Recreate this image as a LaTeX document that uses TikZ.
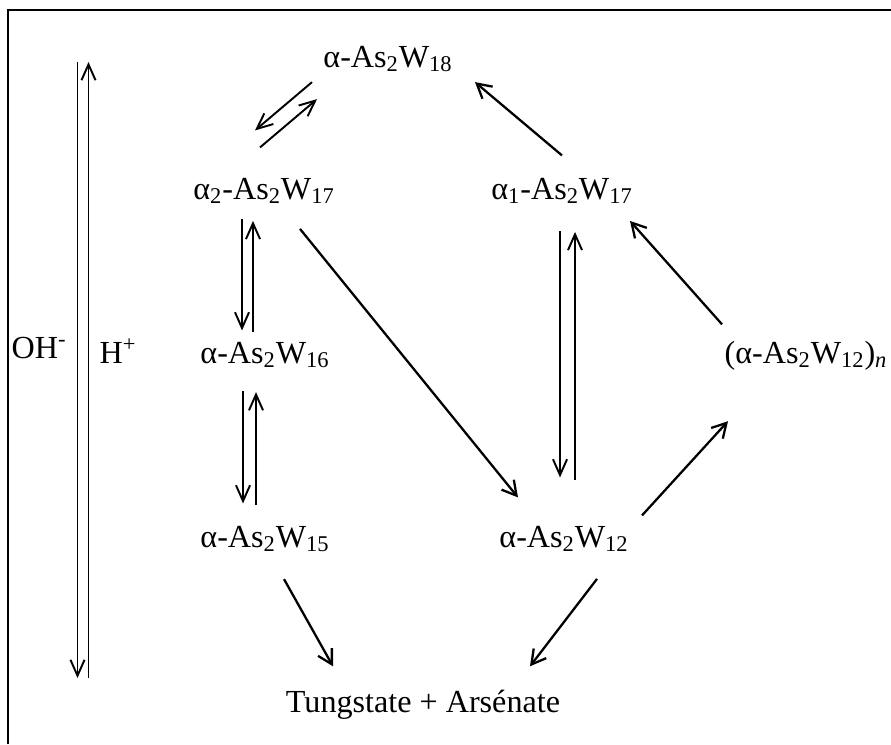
\documentclass[tikz,border=0pt]{standalone}
\usepackage{fontspec}
\setmainfont{Liberation Serif}
\usetikzlibrary{arrows.meta}

\begin{document}
\begin{tikzpicture}[x=0.02cm, y=-0.02cm,
    species/.style={anchor=base, inner sep=0pt, font=\fontsize{18.3}{22}\selectfont},
    react/.style={line width=1.3pt, -{Straight Barb[length=8pt,width=9pt]}},
    equil/.style={line width=1.1pt, -{Straight Barb[length=9pt,width=8pt]}}]
    \useasboundingbox (0,0) rectangle (891,744);

    % Frame
    \draw[line width=1.1pt] (8,744) -- (8,10) -- (891,10);

    % Species
    \node[species] (a18)   at (388,67)  {α-As\textsubscript{2}W\textsubscript{18}};
    \node[species] (a2w17) at (264,199) {α\textsubscript{2}-As\textsubscript{2}W\textsubscript{17}};
    \node[species] (a1w17) at (562,199) {α\textsubscript{1}-As\textsubscript{2}W\textsubscript{17}};
    \node[species] (w16)   at (265,363) {α-As\textsubscript{2}W\textsubscript{16}};
    \node[species] (w12n)  at (806,363) {(α-As\textsubscript{2}W\textsubscript{12})\textsubscript{\textit{n}}};
    \node[species] (w15)   at (265,547) {α-As\textsubscript{2}W\textsubscript{15}};
    \node[species] (w12)   at (564,547) {α-As\textsubscript{2}W\textsubscript{12}};
    \node[species] (prod)  at (423,712) {Tungstate + Arsénate};

    % pH scale
    \node[species] (oh) at (39,358)  {OH\textsuperscript{-}};
    \node[species] (hp) at (118,363) {H\textsuperscript{+}};
    \coordinate (phtop) at (83,62);
    \coordinate (phbot) at (83,678);
    \draw[equil] ([xshift=-0.11cm]phtop) -- ([xshift=-0.11cm]phbot);
    \draw[equil] ([xshift=0.11cm]phbot) -- ([xshift=0.11cm]phtop);

    % Equilibria
    \draw[equil] ([shift={(-76,10)}]a18.south) -- ([shift={(-9,-47)}]a2w17.north);
    \draw[equil] ([shift={(-4,-30)}]a2w17.north) -- ([shift={(-71,27)}]a18.south);

    \draw[equil] ([shift={(-22,15)}]a2w17.south) -- ([shift={(-23,-11)}]w16.north);
    \draw[equil] ([shift={(-12,-9)}]w16.north) -- ([shift={(-11,17)}]a2w17.south);

    \draw[equil] ([shift={(-22,23)}]w16.south) -- ([shift={(-22,-22)}]w15.north);
    \draw[equil] ([shift={(-9,-20)}]w15.north) -- ([shift={(-9,24)}]w16.south);

    \draw[equil] ([shift={(-2,27)}]a1w17.south) -- ([shift={(-4,-48)}]w12.north);
    \draw[equil] ([shift={(11,-45)}]w12.north) -- ([shift={(13,28)}]a1w17.south);

    % Reactions
    \draw[react] ([shift={(0,-22)}]a1w17.north) -- ([shift={(87,10)}]a18.south);
    \draw[react] ([shift={(-84,-16)}]w12n.north) -- ([shift={(68,17)}]a1w17.south);
    \draw[react] ([shift={(78,-10)}]w12.north) -- ([shift={(-78,51)}]w12n.south);
    \draw[react] ([shift={(36,25)}]a2w17.south) -- ([shift={(-46,-28)}]w12.north);
    \draw[react] ([shift={(19,27)}]w15.south) -- ([shift={(-90,-23)}]prod.north);
    \draw[react] ([shift={(33,27)}]w12.south) -- ([shift={(107,-23)}]prod.north);

\end{tikzpicture}
\end{document}
